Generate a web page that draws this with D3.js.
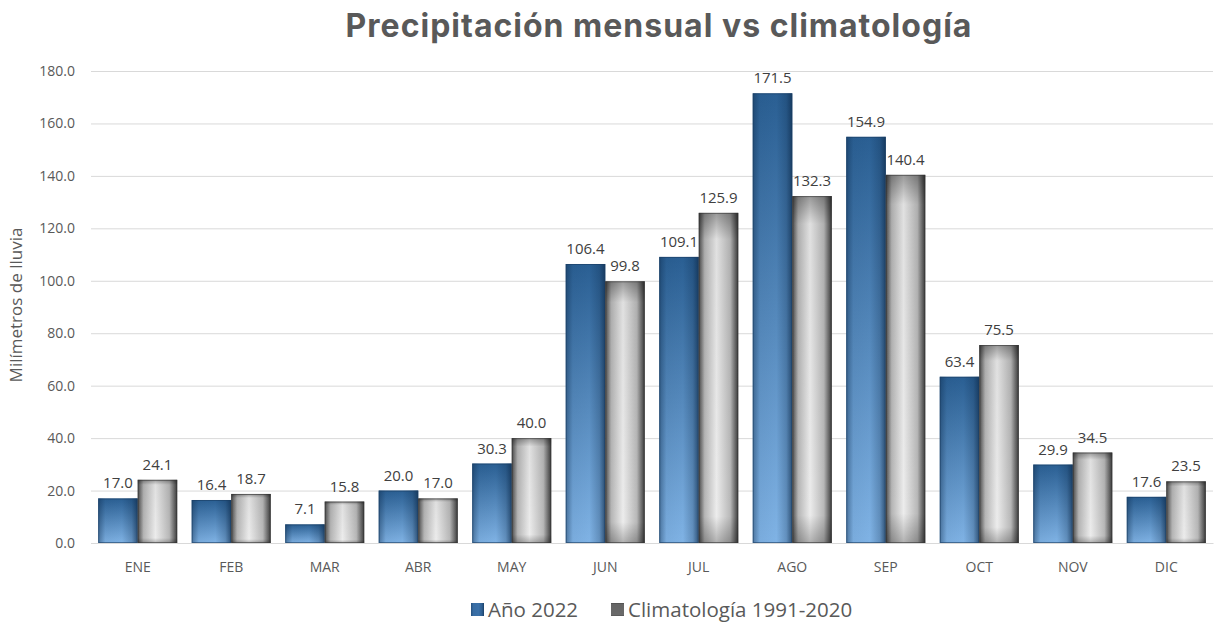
<!DOCTYPE html>
<html>
<head>
<meta charset="utf-8">
<script src="https://cdn.jsdelivr.net/npm/d3@7/dist/d3.min.js"></script>
<style>
  html, body { margin: 0; padding: 0; background: #fff; }
  svg { display: block; font-family: "Open Sans", "Noto Sans", sans-serif; }
</style>
</head>
<body>
<svg id="chart" width="1215" height="623"></svg>
<script>
// Monthly precipitation (mm)
const months = ["ENE", "FEB", "MAR", "ABR", "MAY", "JUN", "JUL", "AGO", "SEP", "OCT", "NOV", "DIC"];
const year2022 = [17.0, 16.4, 7.1, 20.0, 30.3, 106.4, 109.1, 171.5, 154.9, 63.4, 29.9, 17.6];
const climatology = [24.1, 18.7, 15.8, 17.0, 40.0, 99.8, 125.9, 132.3, 140.4, 75.5, 34.5, 23.5];
const seriesNames = ["Año 2022", "Climatología 1991-2020"];
const yTicks = [0, 20, 40, 60, 80, 100, 120, 140, 160, 180];

const svg = d3.select("#chart");
const W = 1215, H = 623;
const m = { left: 91, right: 2, top: 71, bottom: 80 };
const FONT = "'Open Sans', 'Noto Sans', sans-serif";

const x = d3.scaleBand().domain(months).range([m.left, W - m.right]).paddingInner(0.155).paddingOuter(0.077);
const xs = d3.scaleBand().domain([0, 1]).range([0, x.bandwidth()]);
const y = d3.scaleLinear().domain([0, 180]).range([H - m.bottom, m.top]);

// Gradients
const defs = svg.append("defs");
const blueV = defs.append("linearGradient").attr("id", "blueV").attr("x1", 0).attr("y1", 0).attr("x2", 0).attr("y2", 1);
blueV.append("stop").attr("offset", "0%").attr("stop-color", "#2a5f93");
blueV.append("stop").attr("offset", "100%").attr("stop-color", "#80b3e5");
const blueH = defs.append("linearGradient").attr("id", "blueH").attr("x1", 0).attr("x2", 1);
blueH.append("stop").attr("offset", "0%").attr("stop-color", "#0d2a4a").attr("stop-opacity", 0.45);
blueH.append("stop").attr("offset", "18%").attr("stop-color", "#0d2a4a").attr("stop-opacity", 0.05);
blueH.append("stop").attr("offset", "60%").attr("stop-color", "#0d2a4a").attr("stop-opacity", 0.0);
blueH.append("stop").attr("offset", "85%").attr("stop-color", "#0d2a4a").attr("stop-opacity", 0.25);
blueH.append("stop").attr("offset", "100%").attr("stop-color", "#0d2a4a").attr("stop-opacity", 0.7);

const grayH = defs.append("linearGradient").attr("id", "grayH").attr("x1", 0).attr("x2", 1);
grayH.append("stop").attr("offset", "0%").attr("stop-color", "#4a4a4a");
grayH.append("stop").attr("offset", "15%").attr("stop-color", "#b5b5b5");
grayH.append("stop").attr("offset", "45%").attr("stop-color", "#ececec");
grayH.append("stop").attr("offset", "80%").attr("stop-color", "#b8b8b8");
grayH.append("stop").attr("offset", "100%").attr("stop-color", "#3a3a3a");
const grayV = defs.append("linearGradient").attr("id", "grayV").attr("x1", 0).attr("y1", 0).attr("x2", 0).attr("y2", 1);
grayV.append("stop").attr("offset", "0%").attr("stop-color", "#000").attr("stop-opacity", 0.35);
grayV.append("stop").attr("offset", "8%").attr("stop-color", "#000").attr("stop-opacity", 0.05);
grayV.append("stop").attr("offset", "92%").attr("stop-color", "#000").attr("stop-opacity", 0.0);
grayV.append("stop").attr("offset", "100%").attr("stop-color", "#000").attr("stop-opacity", 0.25);

// Title
svg.append("text").attr("x", 659).attr("y", 37).attr("text-anchor", "middle")
  .attr("font-size", 32).attr("font-weight", 700).attr("fill", "#595959")
  .attr("letter-spacing", 1)
  .attr("font-family", "Inter, 'Open Sans', sans-serif")
  .text("Precipitación mensual vs climatología");

// Gridlines + y labels
const yAxis = d3.axisLeft(y).tickValues(yTicks).tickSize(-(W - m.right - m.left)).tickFormat(d3.format(".1f"));
const gy = svg.append("g").attr("transform", `translate(${m.left},0)`).call(yAxis).attr("font-family", FONT);
gy.select(".domain").remove();
gy.selectAll(".tick line").attr("stroke", "#d9d9d9").attr("stroke-width", 1);
gy.selectAll(".tick text").attr("x", -16).attr("font-size", 14).attr("fill", "#595959");

// Y axis title
svg.append("text").attr("transform", `translate(22,${(m.top + H - m.bottom) / 2 - 2}) rotate(-90)`)
  .attr("text-anchor", "middle").attr("font-size", 17).attr("fill", "#595959")
  .attr("font-family", FONT)
  .text("Milímetros de lluvia");

// X labels
const xAxis = d3.axisBottom(x).tickSize(0);
const gx = svg.append("g").attr("transform", `translate(0,${H - m.bottom})`).call(xAxis).attr("font-family", FONT);
gx.select(".domain").attr("stroke", "#d9d9d9");
gx.selectAll(".tick text").attr("dy", "1.85em").attr("font-size", 14).attr("fill", "#595959");

// Bars
const fmt = d3.format(".1f");
function drawSeries(values, idx) {
  const g = svg.append("g");
  values.forEach((v, i) => {
    const bx = x(months[i]) + xs(idx), bw = xs.bandwidth(), by = y(v), bh = y(0) - y(v);
    if (idx === 0) {
      g.append("rect").attr("x", bx).attr("y", by).attr("width", bw).attr("height", bh).attr("fill", "url(#blueV)");
      g.append("rect").attr("x", bx).attr("y", by).attr("width", bw).attr("height", bh).attr("fill", "url(#blueH)");
      g.append("rect").attr("x", bx + 0.5).attr("y", by + 0.5).attr("width", bw - 1).attr("height", bh - 1)
        .attr("fill", "none").attr("stroke", "#1a3d63").attr("stroke-opacity", 0.6);
    } else {
      g.append("rect").attr("x", bx).attr("y", by).attr("width", bw).attr("height", bh).attr("fill", "url(#grayH)");
      g.append("rect").attr("x", bx).attr("y", by).attr("width", bw).attr("height", bh).attr("fill", "url(#grayV)");
      g.append("rect").attr("x", bx + 0.5).attr("y", by + 0.5).attr("width", bw - 1).attr("height", bh - 1)
        .attr("fill", "none").attr("stroke", "#333").attr("stroke-opacity", 0.6);
    }
    g.append("text").attr("x", bx + bw / 2).attr("y", by - 10).attr("text-anchor", "middle")
      .attr("font-size", 15).attr("fill", "#404040").text(fmt(v));
  });
}
drawSeries(year2022, 0);
drawSeries(climatology, 1);

// Legend
const legendItems = [
  { name: seriesNames[0], x: 471 },
  { name: seriesNames[1], x: 611 }
];
const lg = svg.append("g");
legendItems.forEach((d, i) => {
  lg.append("rect").attr("x", d.x).attr("y", 603).attr("width", 13).attr("height", 13)
    .attr("fill", i === 0 ? "#3a70a8" : "#6a6a6a");
  lg.append("rect").attr("x", d.x).attr("y", 603).attr("width", 13).attr("height", 13)
    .attr("fill", i === 0 ? "url(#blueH)" : "url(#grayV)");
  lg.append("text").attr("x", d.x + 17).attr("y", 617).attr("font-size", 20.5).attr("fill", "#595959").text(d.name);
});
</script>
</body>
</html>
